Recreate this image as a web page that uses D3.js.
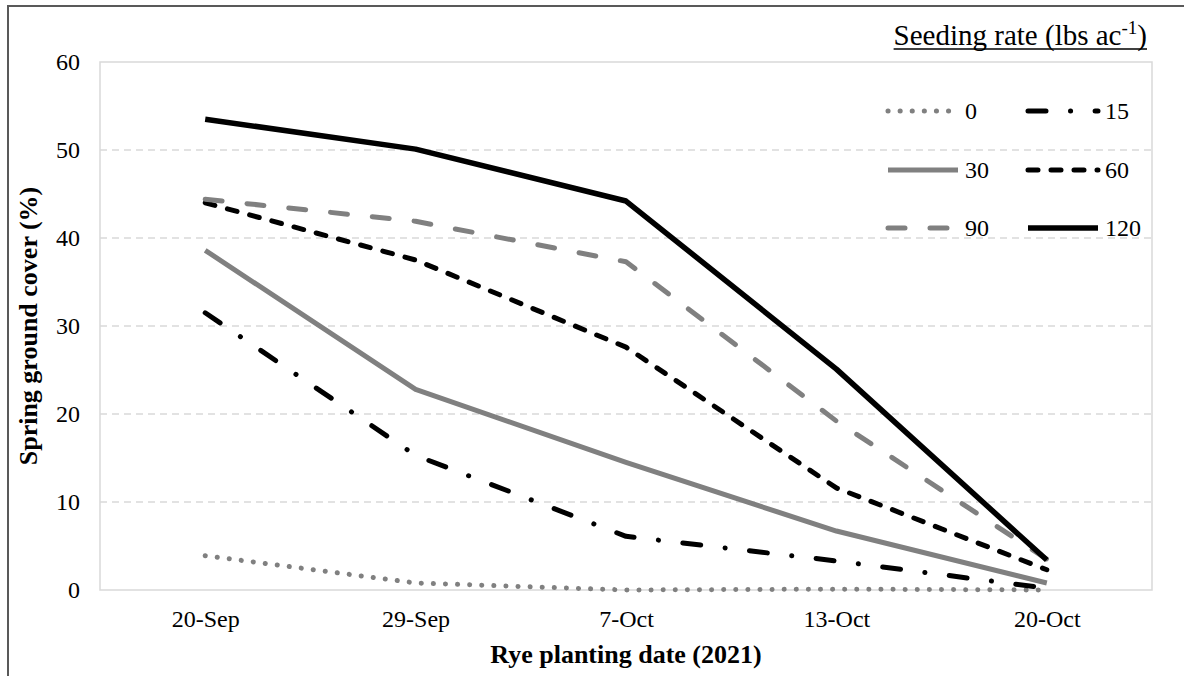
<!DOCTYPE html>
<html>
<head>
<meta charset="utf-8">
<script src="https://cdn.jsdelivr.net/npm/d3@7"></script>
<style>
  body { margin: 0; background: #fff; }
  svg text { font-family: "Liberation Serif", "Times New Roman", serif !important; fill: #000; }
</style>
</head>
<body>
<script>
// Rye planting dates (x categories)
const dates = ["20-Sep", "29-Sep", "7-Oct", "13-Oct", "20-Oct"];

// Spring ground cover (%) for each seeding rate (lbs ac-1)
const rate0 = [3.9, 0.8, 0.0, 0.1, 0.0];
const rate15 = [31.5, 15.3, 6.1, 3.3, 0.2];
const rate30 = [38.6, 22.8, 14.5, 6.7, 0.8];
const rate60 = [44.0, 37.5, 27.6, 11.6, 2.3];
const rate90 = [44.4, 41.9, 37.3, 19.2, 3.5];
const rate120 = [53.5, 50.1, 44.2, 25.1, 3.4];

const yTicks = [0, 10, 20, 30, 40, 50, 60];

// line styles, kept apart from the values
const series = [
  { name: "0",   values: rate0,   color: "#808080", width: 5,   dash: "0.1 12", cap: "round" },
  { name: "15",  values: rate15,  color: "#000",    width: 5,   dash: "18 24.5 0.1 24.5", cap: "round" },
  { name: "30",  values: rate30,  color: "#808080", width: 5,   dash: null, cap: "butt" },
  { name: "60",  values: rate60,  color: "#000",    width: 5,   dash: "10 13", cap: "round" },
  { name: "90",  values: rate90,  color: "#808080", width: 5,   dash: "17 25", cap: "round" },
  { name: "120", values: rate120, color: "#000",    width: 5.5, dash: null, cap: "butt" }
];

const W = 1184, H = 676;
const plot = { left: 100, right: 1152, top: 62, bottom: 590 };

const svg = d3.select("body").append("svg")
    .attr("width", W)
    .attr("height", H);

svg.append("rect").attr("width", W).attr("height", H).attr("fill", "#fff");

// outer frame (top and left edges only show in the picture)
svg.append("path")
    .attr("d", `M8,${H} L8,6 L${W},6`)
    .attr("fill", "none")
    .attr("stroke", "#595959")
    .attr("stroke-width", 2);

const x = d3.scalePoint().domain(dates).range([plot.left, plot.right]).padding(0.5);
const y = d3.scaleLinear().domain([0, 60]).range([plot.bottom, plot.top]);

// gridlines
svg.selectAll(".grid")
    .data(yTicks.filter(d => d > 0 && d < 60))
    .enter()
    .append("line")
    .attr("x1", plot.left)
    .attr("x2", plot.right)
    .attr("y1", d => y(d))
    .attr("y2", d => y(d))
    .attr("stroke", "#d9d9d9")
    .attr("stroke-width", 1.5)
    .attr("stroke-dasharray", "7 5");

// plot area border
svg.append("rect")
    .attr("x", plot.left)
    .attr("y", plot.top)
    .attr("width", plot.right - plot.left)
    .attr("height", plot.bottom - plot.top)
    .attr("fill", "none")
    .attr("stroke", "#d9d9d9")
    .attr("stroke-width", 1.5);

// axes
const yAxis = svg.append("g")
    .attr("transform", `translate(${plot.left},0)`)
    .call(d3.axisLeft(y).tickValues(yTicks).tickSize(0).tickPadding(20));
yAxis.select(".domain").remove();
yAxis.attr("font-family", null).attr("font-size", null);
yAxis.selectAll("text").style("font-size", "24px");

const xAxis = svg.append("g")
    .attr("transform", `translate(0,${plot.bottom})`)
    .call(d3.axisBottom(x).tickSize(0).tickPadding(20));
xAxis.select(".domain").remove();
xAxis.attr("font-family", null).attr("font-size", null);
xAxis.selectAll("text").style("font-size", "24px");

// axis titles
svg.append("text")
    .attr("x", (plot.left + plot.right) / 2)
    .attr("y", 663)
    .attr("text-anchor", "middle")
    .style("font-size", "26px")
    .style("font-weight", "bold")
    .text("Rye planting date (2021)");

svg.append("text")
    .attr("transform", `translate(37,${(plot.top + plot.bottom) / 2}) rotate(-90)`)
    .attr("text-anchor", "middle")
    .style("font-size", "26px")
    .style("font-weight", "bold")
    .text("Spring ground cover (%)");

// lines
const line = d3.line()
    .x((d, i) => x(dates[i]))
    .y(d => y(d));

svg.selectAll(".series")
    .data(series)
    .enter()
    .append("path")
    .attr("class", "series")
    .attr("d", d => line(d.values))
    .attr("fill", "none")
    .attr("stroke", d => d.color)
    .attr("stroke-width", d => d.width)
    .attr("stroke-dasharray", d => d.dash)
    .attr("stroke-linecap", d => d.cap)
    .attr("stroke-linejoin", "round");

// legend
const legendTitle = svg.append("text")
    .attr("x", 1147)
    .attr("y", 45)
    .attr("text-anchor", "end")
    .style("font-size", "29px");
legendTitle.append("tspan").text("Seeding rate (lbs ac");
legendTitle.append("tspan").attr("dy", -11).style("font-size", "19px").text("-1");
legendTitle.append("tspan").attr("dy", 11).text(")");

const tb = legendTitle.node().getBBox();
svg.append("line")
    .attr("x1", tb.x)
    .attr("x2", tb.x + tb.width)
    .attr("y1", 49)
    .attr("y2", 49)
    .attr("stroke", "#000")
    .attr("stroke-width", 1.5);

const legendCols = [888, 1028];
const legendRows = [111, 170, 228];
const legend = svg.selectAll(".legend")
    .data(series)
    .enter()
    .append("g")
    .attr("class", "legend")
    .attr("transform", (d, i) => `translate(${legendCols[i % 2]},${legendRows[Math.floor(i / 2)]})`);

legend.append("line")
    .attr("x1", 0)
    .attr("x2", 70)
    .attr("stroke", d => d.color)
    .attr("stroke-width", d => d.width)
    .attr("stroke-dasharray", d => d.dash)
    .attr("stroke-linecap", d => d.cap);

legend.append("text")
    .attr("x", 77)
    .attr("dy", "0.33em")
    .style("font-size", "24px")
    .text(d => d.name);
</script>
</body>
</html>
